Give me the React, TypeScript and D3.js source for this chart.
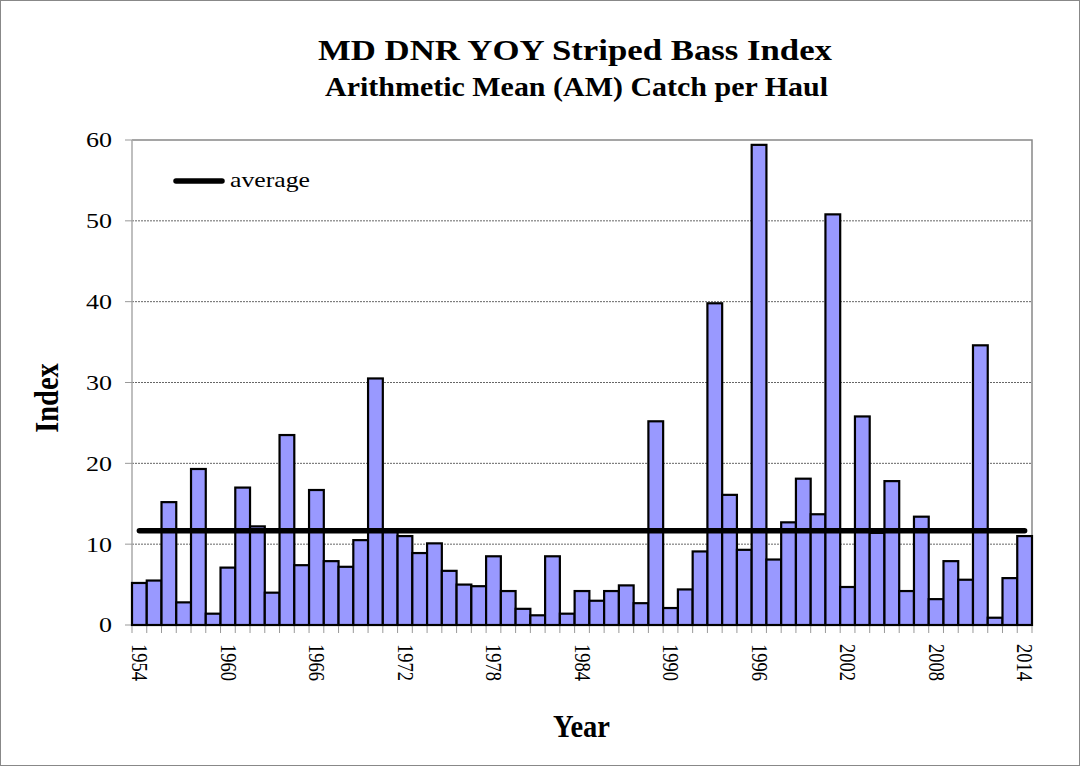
import React, { useEffect, useRef } from 'react';
import * as d3 from 'd3';

const years = d3.range(1954, 2015);
const indexValues = [
  5.2, 5.5, 15.2, 2.8, 19.3, 1.4, 7.1, 17.0, 12.2, 4.0,
  23.5, 7.4, 16.7, 7.9, 7.2, 10.5, 30.5, 11.6, 11.0, 8.9,
  10.1, 6.7, 5.0, 4.8, 8.5, 4.2, 2.0, 1.2, 8.5, 1.4,
  4.2, 3.0, 4.2, 4.9, 2.7, 25.2, 2.1, 4.4, 9.1, 39.8,
  16.1, 9.3, 59.4, 8.1, 12.7, 18.1, 13.7, 50.8, 4.7, 25.8,
  11.4, 17.8, 4.2, 13.4, 3.2, 7.9, 5.6, 34.6, 0.9, 5.8,
  11.0,
];
const averageValue = 11.65;
const yTicks = [0, 10, 20, 30, 40, 50, 60];
const labelYears = [1954, 1960, 1966, 1972, 1978, 1984, 1990, 1996, 2002, 2008, 2014];

const W = 1080;
const H = 766;
const M = { left: 132, right: 1032, top: 140, bottom: 625 };
const FONT = '"Liberation Serif", "Times New Roman", serif';
// the reference is stretched horizontally
const SX = 1.2;

const App: React.FC = () => {
  const ref = useRef<SVGSVGElement>(null);

  useEffect(() => {
    const svg = d3.select(ref.current);
    svg.selectAll('*').remove();

    const x = d3.scaleBand<number>().domain(years).range([M.left, M.right]).padding(0);
    const y = d3.scaleLinear().domain([0, 60]).range([M.bottom, M.top]);

    svg.append('rect').attr('x', 0.5).attr('y', 0.5).attr('width', W - 1).attr('height', H - 1)
      .attr('fill', '#fff').attr('stroke', '#888');

    // gridlines
    svg.append('g').selectAll('line').data(yTicks.filter(t => t > 0 && t < 60)).join('line')
      .attr('x1', M.left).attr('x2', M.right)
      .attr('y1', d => y(d)).attr('y2', d => y(d))
      .attr('stroke', '#666').attr('stroke-width', 1).attr('stroke-dasharray', '2,1');

    // plot border (top/right)
    svg.append('path')
      .attr('d', `M${M.left},${y(60)}H${M.right}V${M.bottom}`)
      .attr('fill', 'none').attr('stroke', '#888').attr('stroke-width', 1.5);

    // left axis
    svg.append('line').attr('x1', M.left).attr('x2', M.left).attr('y1', M.top).attr('y2', M.bottom)
      .attr('stroke', '#aaa').attr('stroke-width', 1.5);
    svg.append('g').selectAll('line').data(yTicks).join('line')
      .attr('x1', M.left - 7).attr('x2', M.left)
      .attr('y1', d => y(d)).attr('y2', d => y(d))
      .attr('stroke', '#999');
    svg.append('g').selectAll('text').data(yTicks).join('text')
      .attr('x', 112).attr('y', d => y(d)).attr('dy', '0.35em')
      .attr('text-anchor', 'end').attr('font-family', FONT).attr('font-size', 21)
      .attr('textLength', d => String(d).length * 13).attr('lengthAdjust', 'spacingAndGlyphs')
      .text(d => d);

    // bars
    svg.append('g').selectAll('rect').data(years).join('rect')
      .attr('x', d => x(d)!)
      .attr('y', (d, i) => y(indexValues[i]))
      .attr('width', x.bandwidth())
      .attr('height', (d, i) => y(0) - y(indexValues[i]))
      .attr('fill', '#9999FF').attr('stroke', '#000').attr('stroke-width', 2.2);

    // bottom axis
    svg.append('line').attr('x1', M.left).attr('x2', M.right).attr('y1', M.bottom).attr('y2', M.bottom)
      .attr('stroke', '#000').attr('stroke-width', 2);
    const edges = d3.range(years.length + 1).map(i => M.left + i * x.bandwidth());
    svg.append('g').selectAll('line').data(edges).join('line')
      .attr('x1', d => d).attr('x2', d => d)
      .attr('y1', M.bottom + 1).attr('y2', M.bottom + 8)
      .attr('stroke', '#999');
    svg.append('g').selectAll('text').data(labelYears).join('text')
      .attr('transform', d => `translate(${x(d)! + x.bandwidth() / 2},${M.bottom + 19}) scale(${SX},1) rotate(90)`)
      .attr('dy', '0.33em')
      .attr('font-family', FONT).attr('font-size', 18.5)
      .text(d => d);

    // average line
    const line = d3.line<number>().x(d => x(d)! + x.bandwidth() / 2).y(() => y(averageValue));
    svg.append('path').datum([years[0], years[years.length - 1]])
      .attr('d', line).attr('fill', 'none').attr('stroke', '#000')
      .attr('stroke-width', 5.5).attr('stroke-linecap', 'round');

    // legend
    svg.append('line').attr('x1', 176).attr('x2', 222).attr('y1', 181).attr('y2', 181)
      .attr('stroke', '#000').attr('stroke-width', 5.5).attr('stroke-linecap', 'round');
    svg.append('text').attr('x', 230).attr('y', 181).attr('dy', '0.3em')
      .attr('font-family', FONT).attr('font-size', 21.5)
      .attr('textLength', 80).attr('lengthAdjust', 'spacingAndGlyphs')
      .text('average');

    // titles
    svg.append('text').attr('x', 318).attr('y', 59.5)
      .attr('font-family', FONT).attr('font-weight', 'bold').attr('font-size', 29)
      .attr('textLength', 514).attr('lengthAdjust', 'spacingAndGlyphs')
      .text('MD DNR YOY Striped Bass Index');
    svg.append('text').attr('x', 325).attr('y', 96)
      .attr('font-family', FONT).attr('font-weight', 'bold').attr('font-size', 26.5)
      .attr('textLength', 503).attr('lengthAdjust', 'spacingAndGlyphs')
      .text('Arithmetic Mean (AM) Catch per Haul');
    svg.append('text')
      .attr('transform', `translate(58,398) scale(${SX},1) rotate(-90)`)
      .attr('text-anchor', 'middle')
      .attr('font-family', FONT).attr('font-weight', 'bold').attr('font-size', 28.5)
      .text('Index');
    svg.append('text').attr('x', 553).attr('y', 737)
      .attr('font-family', FONT).attr('font-weight', 'bold').attr('font-size', 31)
      .attr('textLength', 57).attr('lengthAdjust', 'spacingAndGlyphs')
      .text('Year');
  }, []);

  return (
    <div style={{ position: 'absolute', left: 0, top: 0 }}>
      <svg ref={ref} width={W} height={H} />
    </div>
  );
};

export default App;
